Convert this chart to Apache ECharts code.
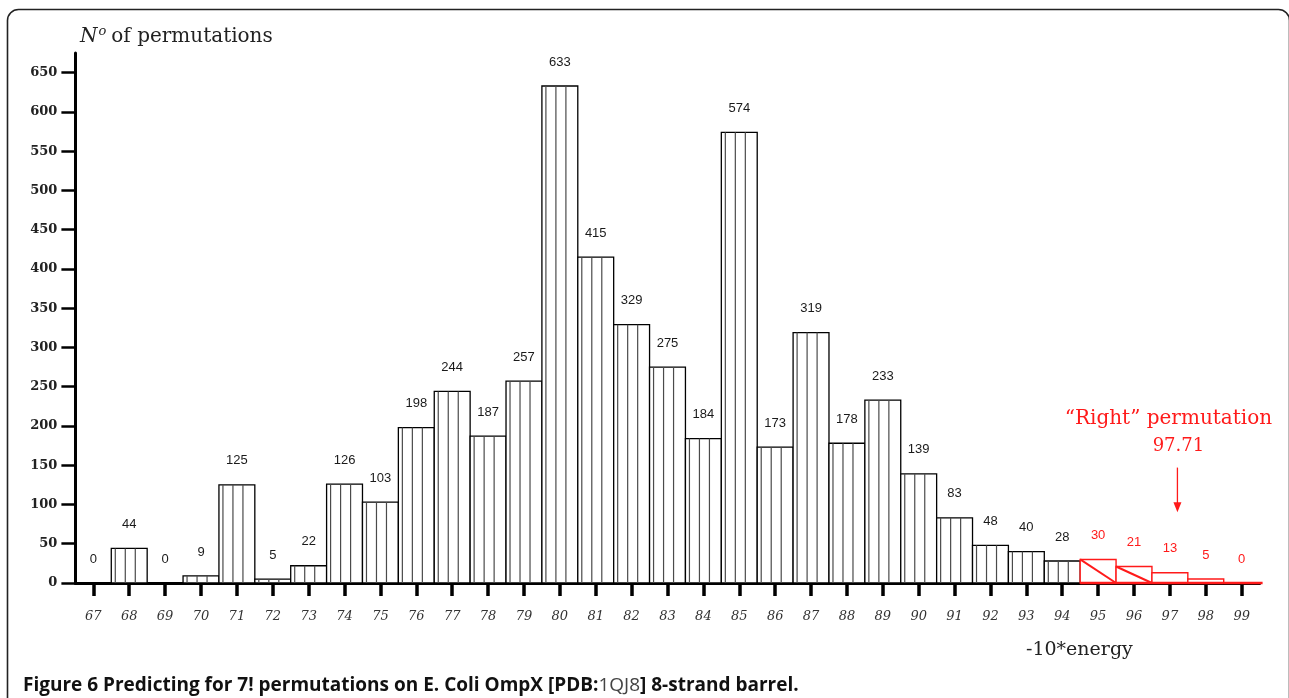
<!DOCTYPE html>
<html>
<head>
<meta charset="utf-8">
<script src="https://cdn.jsdelivr.net/npm/echarts@6/dist/echarts.min.js"></script>
<style>
  html, body { margin: 0; padding: 0; background: #fff; }
  #chart { width: 1289px; height: 698px; }
</style>
</head>
<body>
<div id="chart"></div>
<script>
// Histogram of -10*energy for the 7! strand permutations
const energyBins = ['67','68','69','70','71','72','73','74','75','76','77','78','79','80','81','82',
  '83','84','85','86','87','88','89','90','91','92','93','94','95','96','97','98','99'];
const permutationCounts = [0, 44, 0, 9, 125, 5, 22, 126, 103, 198, 244, 187, 257, 633, 415, 329,
  275, 184, 574, 173, 319, 178, 233, 139, 83, 48, 40, 28, 30, 21, 13, 5, 0];
const yTicks = [0, 50, 100, 150, 200, 250, 300, 350, 400, 450, 500, 550, 600, 650];
const rightPermutationEnergy = 97.71;

// bins drawn in red (the region of the "right" permutation)
const redFromBin = 95;
const diagonalBins = ['95', '96'];

const RED = '#ff1a1a';
const chart = echarts.init(document.getElementById('chart'), null, { renderer: 'canvas' });

function renderBar(params, api) {
  const idx = api.value(0);
  const v = api.value(1);
  const bin = energyBins[idx];
  const isRed = Number(bin) >= redFromBin;
  const top = api.coord([idx, v]);
  const base = api.coord([idx, 0]);
  const bw = api.size([1, 0])[0];
  const x0 = top[0] - bw / 2;
  const h = base[1] - top[1];
  const children = [];
  const stroke = isRed ? RED : '#000';

  if (h > 0) {
    children.push({
      type: 'rect',
      shape: { x: x0, y: top[1], width: bw, height: h },
      style: { fill: '#fff', stroke: stroke, lineWidth: isRed ? 1.4 : 1.3 }
    });
  }
  if (!isRed && h > 0) {
    // vertical hatching
    for (let dx = 4; dx < bw - 3; dx += 10) {
      children.push({
        type: 'line',
        shape: { x1: x0 + dx, y1: top[1], x2: x0 + dx, y2: base[1] },
        style: { stroke: '#4a4a4a', lineWidth: 1.2 }
      });
    }
  }
  if (isRed && diagonalBins.indexOf(bin) >= 0 && h > 0) {
    children.push({
      type: 'line',
      shape: { x1: x0, y1: top[1], x2: x0 + bw, y2: base[1] },
      style: { stroke: RED, lineWidth: 2 }
    });
  }
  if (isRed) {
    children.push({
      type: 'line',
      shape: { x1: x0, y1: base[1], x2: x0 + bw + (idx === energyBins.length - 1 ? 3 : 0), y2: base[1] },
      style: { stroke: RED, lineWidth: 2.6 }
    });
  }
  children.push({
    type: 'text',
    x: top[0], y: top[1] - 24,
    style: {
      text: String(v), align: 'center', verticalAlign: 'middle',
      fill: isRed ? RED : '#1a1a1a', font: '13px "Liberation Sans", Arial, sans-serif'
    }
  });
  return { type: 'group', children: children };
}

function renderArrow(params, api) {
  const x = api.coord([api.value(0), 0])[0];
  const topY = api.coord([0, 147])[1];
  const tipY = api.coord([0, 90])[1];
  return {
    type: 'group',
    children: [
      { type: 'line', shape: { x1: x, y1: topY, x2: x, y2: tipY - 8 }, style: { stroke: RED, lineWidth: 1.3 } },
      { type: 'polygon', shape: { points: [[x - 4, tipY - 10], [x + 4, tipY - 10], [x, tipY]] }, style: { fill: RED } },
      { type: 'text', x: x - 9, y: topY - 49,
        style: { text: '\u201CRight\u201D permutation', align: 'center', verticalAlign: 'middle',
          fill: RED, font: '20px "DejaVu Serif", serif' } },
      { type: 'text', x: x + 1, y: topY - 21,
        style: { text: String(api.value(0)), align: 'center', verticalAlign: 'middle',
          fill: RED, font: '18px "DejaVu Serif", serif' } }
    ]
  };
}

const option = {
  backgroundColor: '#fff',
  animation: false,
  title: [
    {
      left: 75, top: 20,
      text: '{n|N}{o|o} {t|of permutations}',
      textStyle: {
        fontWeight: 'normal',
        rich: {
          n: { fontFamily: 'DejaVu Serif', fontStyle: 'italic', fontWeight: 'normal', fontSize: 20, color: '#222' },
          o: { fontFamily: 'DejaVu Serif', fontStyle: 'italic', fontWeight: 'normal', fontSize: 13, color: '#222', verticalAlign: 'top', padding: [0, 0, 10, 1] },
          t: { fontFamily: 'DejaVu Serif', fontWeight: 'normal', fontSize: 20, color: '#222' }
        }
      }
    },
    {
      left: 1021, top: 636,
      text: '-10*energy',
      textStyle: { fontFamily: 'DejaVu Serif', fontSize: 19, fontWeight: 'normal', color: '#222' }
    },
    {
      left: 18, top: 671,
      text: '{b|Figure 6 Predicting for 7! permutations on E. Coli OmpX [PDB:}{l|1QJ8}{b|] 8-strand barrel.}',
      textStyle: {
        rich: {
          b: { fontFamily: 'Open Sans', fontWeight: 'bold', fontSize: 19, color: '#111' },
          l: { fontFamily: 'Open Sans', fontWeight: 'normal', fontSize: 19, color: '#444' }
        }
      }
    }
  ],
  graphic: [
    {
      type: 'rect', silent: true, z: -1,
      shape: { x: 7.5, y: 9.5, width: 1282, height: 740, r: 11 },
      style: { fill: 'none', stroke: '#222', lineWidth: 1.6 }
    }
  ],
  grid: { left: 75.4, right: 29.4, top: 53, bottom: 115, containLabel: false },
  xAxis: [
    {
      type: 'category',
      data: energyBins,
      boundaryGap: true,
      axisLine: { show: true, lineStyle: { color: '#000', width: 3 } },
      axisTick: { show: true, alignWithLabel: true, interval: 0, length: 13, lineStyle: { color: '#000', width: 3.5 } },
      axisLabel: {
        margin: 27, interval: 0,
        fontFamily: 'DejaVu Serif', fontStyle: 'italic', fontSize: 13, color: '#333'
      },
      splitLine: { show: false }
    },
    { type: 'value', min: 67, max: 100, show: false }
  ],
  yAxis: {
    type: 'value',
    min: 0, max: 675, interval: 50,
    axisLine: { show: true, lineStyle: { color: '#000', width: 3 } },
    axisTick: { show: true, length: 14, customValues: yTicks, lineStyle: { color: '#000', width: 2.5 } },
    axisLabel: {
      margin: 18, customValues: yTicks,
      fontFamily: 'DejaVu Serif', fontWeight: 'bold', fontSize: 13, color: '#222'
    },
    splitLine: { show: false }
  },
  series: [
    {
      type: 'custom',
      name: 'permutations',
      xAxisIndex: 0, yAxisIndex: 0,
      renderItem: renderBar,
      data: permutationCounts.map((c, i) => [i, c]),
      encode: { x: 0, y: 1 },
      z: 3
    },
    {
      type: 'custom',
      name: 'right permutation',
      xAxisIndex: 1, yAxisIndex: 0,
      renderItem: renderArrow,
      data: [[rightPermutationEnergy]],
      encode: { x: 0 },
      z: 4
    }
  ]
};

chart.setOption(option);
</script>
</body>
</html>
